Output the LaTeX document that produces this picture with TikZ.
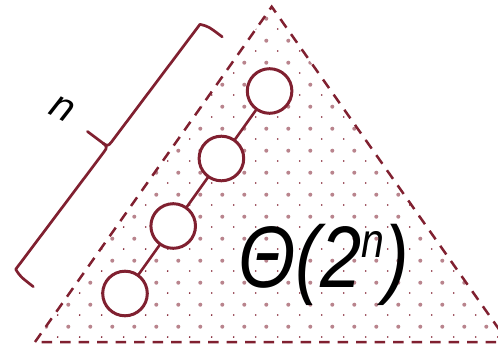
\documentclass[tikz,border=0pt]{standalone}
\usepackage{fontspec}
\setmainfont{Liberation Sans}
\definecolor{maroon}{RGB}{128,32,48}
\tikzset{
  triedge/.style={draw=maroon, line width=2.5pt, dash pattern=on 10.5pt off 8pt},
  ball/.style={circle, draw=maroon, fill=white, line width=3pt, minimum size=44.6pt, inner sep=0pt, outer sep=0pt},
  link/.style={draw=maroon, line width=2.6pt},
  bracepath/.style={draw=maroon, line width=2.7pt, line join=round, line cap=round},
  bigdot/.style={fill=maroon!55},
  smalldot/.style={fill=maroon},
}
\begin{document}
\begin{tikzpicture}[x=1pt,y=-1pt]
\useasboundingbox (0,0) rectangle (498,345);
\clip (0,0) rectangle (498,345);
% dotted fill
\begin{scope}
  \clip (35,342) -- (271.7,6.7) -- (508,342) -- cycle;
  \foreach \i in {0,...,23} {
    \foreach \j in {0,...,16} {
      \fill[bigdot] (2.3+22*\i, 18.7+22*\j) circle (2pt);
      \fill[smalldot] (13.7+22*\i, 7+22*\j) circle (0.95pt);
    }
  }
\end{scope}
% triangle
\draw[triedge] (35,342) -- (271.7,6.7) -- (508,342) -- cycle;
% chain of circles
\node[ball] (c1) at (125,293.5) {};
\node[ball] (c2) at (173.2,226) {};
\node[ball] (c3) at (221.4,158.5) {};
\node[ball] (c4) at (269.6,91) {};
\draw[link] (c1) -- (c2);
\draw[link] (c2) -- (c3);
\draw[link] (c3) -- (c4);
% brace
\begin{scope}[shift={(15.7pt,-269.3pt)}, x={(0.601pt,0.799pt)}, y={(-0.799pt,0.601pt)}]
  \draw[bracepath] (-3.3,-24.5) .. controls (-3,-8) .. (0,0) -- (147.3,0) .. controls (152.3,0) and (153.3,1) .. (153.3,6) -- (153.3,25.5);
  \draw[bracepath] (310,-25.3) .. controls (310,-8) .. (306.6,0) -- (159.3,0) .. controls (154.3,0) and (153.3,1) .. (153.3,6);
\end{scope}
% labels
\node[rotate=-27, inner sep=0pt, font=\fontsize{40}{40}\selectfont\itshape] (nlab) at (62,109) {n};
\node[anchor=base west, inner sep=0pt] (big) at (238,287) {\scalebox{1}[1.18]{\fontsize{74}{74}\selectfont\itshape Θ(2\raisebox{24.6pt}{\fontsize{41}{41}\selectfont n})}};
\end{tikzpicture}
\end{document}
